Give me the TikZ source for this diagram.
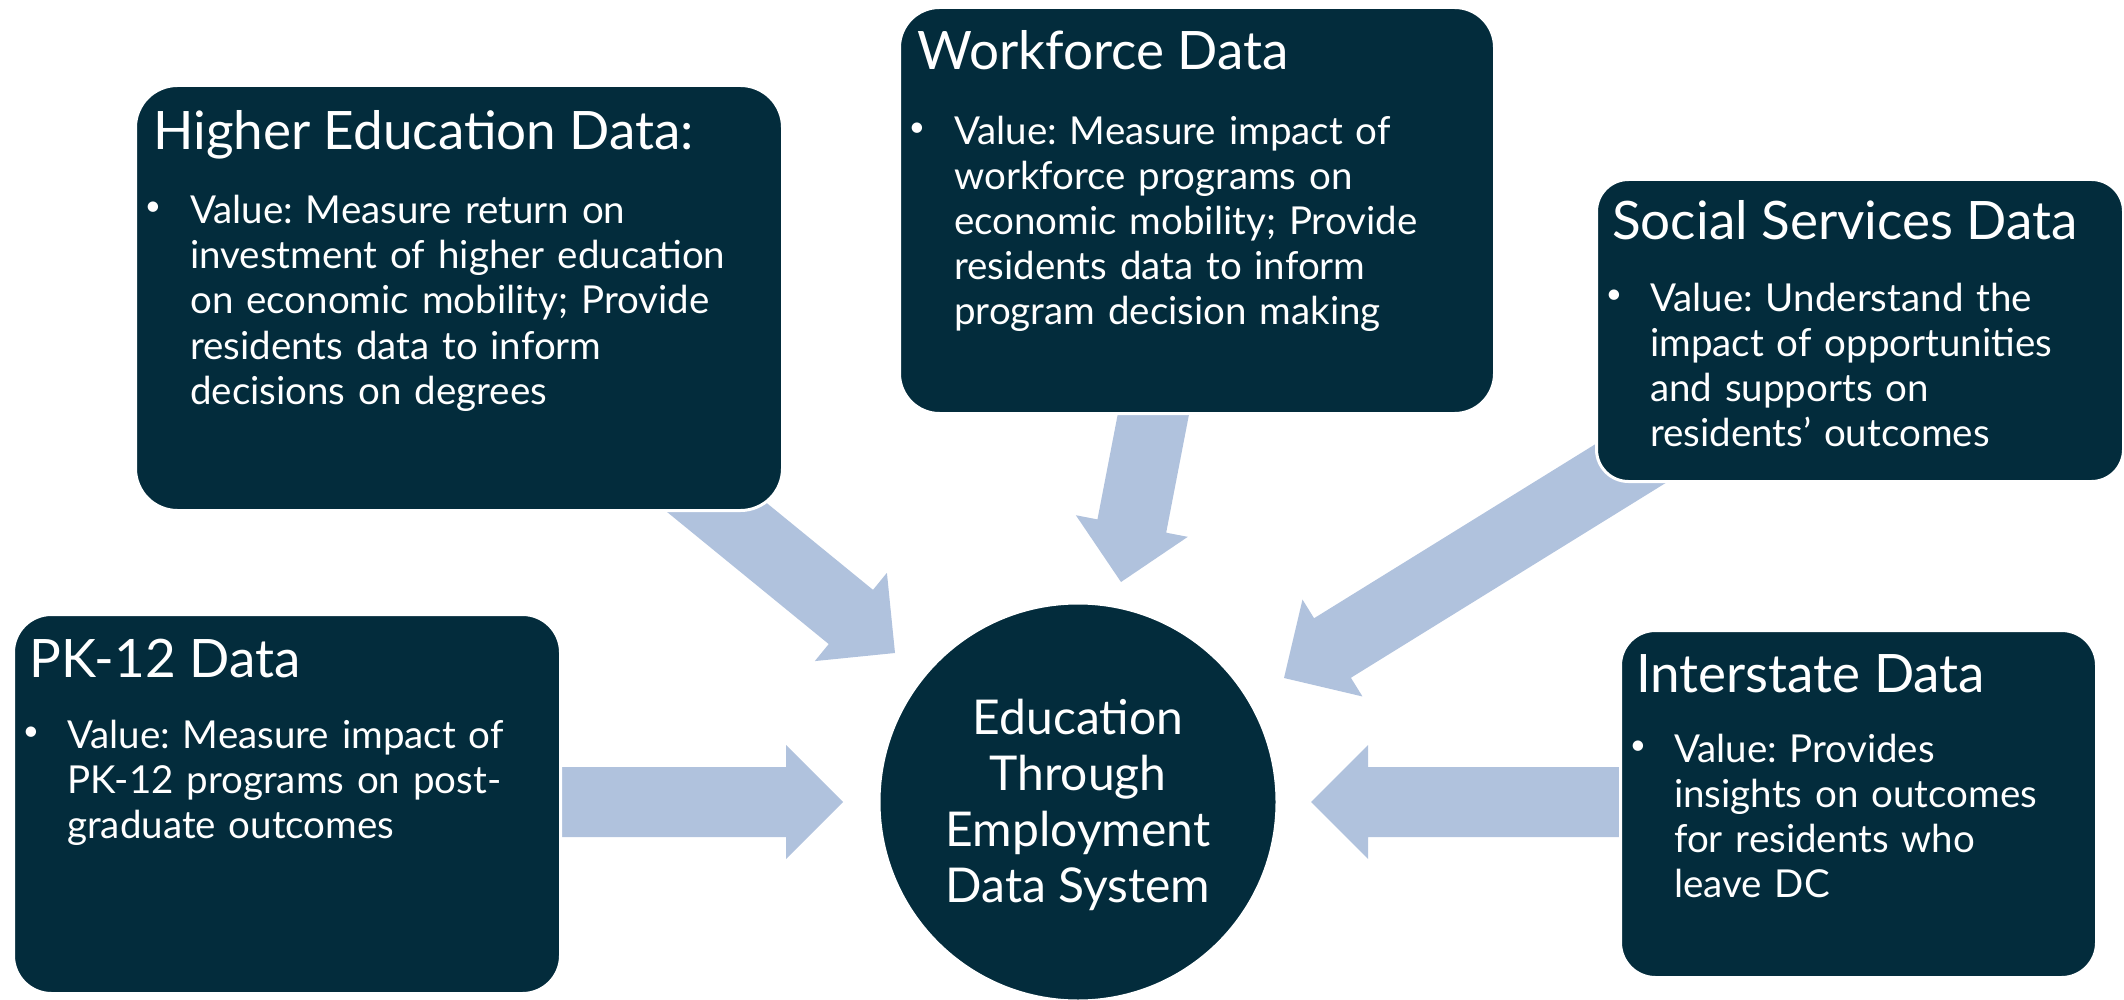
\documentclass[tikz,border=0pt]{standalone}
\usepackage{fontspec}
\setmainfont{Lato}
\usetikzlibrary{calc}
\frenchspacing
\definecolor{boxnavy}{HTML}{032C3C}
\definecolor{arrowblue}{HTML}{B0C2DD}
\pgfdeclarelayer{background}
\pgfsetlayers{background,main}
\newcommand\blockarrow[2]{% #1 tail, #2 tip
  \path ($(#2)!57pt!(#1)$) coordinate (ab);
  \fill[arrowblue] ($(#1)!35pt!90:(#2)$) -- ($(ab)!35pt!90:(#2)$) -- ($(ab)!57pt!90:(#2)$)
    -- (#2) -- ($(ab)!57pt!-90:(#2)$) -- ($(ab)!35pt!-90:(#2)$) -- ($(#1)!35pt!-90:(#2)$) -- cycle;
}
\tikzset{
  databox/.style={fill=boxnavy, draw=white, line width=3pt, anchor=north west, inner sep=0pt},
  boxtitle/.style={text=white, anchor=base west, inner sep=0pt, font=\fontsize{53}{60}\selectfont},
  bulletdot/.style={text=white, anchor=base, inner sep=0pt, font=\fontsize{28}{30}\selectfont},
  boxbody/.style={text=white, anchor=base west, inner sep=0pt, text width=560pt, align=left,
    font=\fontsize{38.5}{45}\selectfont\setlength\parindent{0pt}},
  hubtext/.style={text=white, align=center, inner sep=0pt, font=\fontsize{48}{56}\selectfont},
}
\begin{document}
\begin{tikzpicture}[x=1pt,y=-1pt]
\useasboundingbox (0,0) rectangle (2124,1000);

% boxes
\node[databox, minimum width=647pt, minimum height=425pt, rounded corners=42pt] (he) at (134,84) {};
\node[databox, minimum width=595pt, minimum height=406pt, rounded corners=40pt] (wf) at (898,6) {};
\node[databox, minimum width=527pt, minimum height=302pt, rounded corners=32pt] (ss) at (1595,178) {};
\node[databox, minimum width=547pt, minimum height=379pt, rounded corners=38pt] (pk) at (12,613) {};
\node[databox, minimum width=476pt, minimum height=347pt, rounded corners=35pt] (is) at (1619,629) {};
\node[circle, fill=boxnavy, draw=white, line width=3pt, minimum size=398pt, inner sep=0pt] (hub) at (1078,802) {};
\node[hubtext] (hubt) at (1078,805) {Education\\Through\\Employment\\Data System};

% texts
\node[boxtitle] (het) at (153,150) {Higher Education Data:};
\node[bulletdot] (heb) at (153,216) {\textbullet};
\node[boxbody] (hex) at (190,224) {Value: Measure return on\\investment of higher education\\on economic mobility; Provide\\residents data to inform\\decisions on degrees};

\node[boxtitle] (wft) at (917,70) {Workforce Data};
\node[bulletdot] (wfb) at (917,137) {\textbullet};
\node[boxbody] (wfx) at (954,145) {Value: Measure impact of\\workforce programs on\\economic mobility; Provide\\residents data to inform\\program decision making};

\node[boxtitle] (sst) at (1612,240) {Social Services Data};
\node[bulletdot] (ssb) at (1614,303) {\textbullet};
\node[boxbody] (ssx) at (1650,311) {Value: Understand the\\impact of opportunities\\and supports on\\residents' outcomes};

\node[boxtitle] (pkt) at (29,677) {PK-12 Data};
\node[bulletdot] (pkb) at (31,740) {\textbullet};
\node[boxbody] (pkx) at (67,748) {Value: Measure impact of\\PK-12 programs on post-\\graduate outcomes};

\node[boxtitle] (ist) at (1636,692) {Interstate Data};
\node[bulletdot] (isb) at (1638,754) {\textbullet};
\node[boxbody] (isx) at (1674,762) {Value: Provides\\insights on outcomes\\for residents who\\leave DC};

% arrow anchor coordinates
\coordinate (heT) at (662.5,463.1);
\coordinate (heP) at (895,653);
\coordinate (wfT) at (1160,380);
\coordinate (wfP) at (1121,582);
\coordinate (ssT) at (1666.5,441.3);
\coordinate (ssP) at (1284,678);
\coordinate (pkT) at (540,802);
\coordinate (pkP) at (843,802);
\coordinate (isT) at (1640,802);
\coordinate (isP) at (1311,802);

\begin{pgfonlayer}{background}
\blockarrow{heT}{heP}
\blockarrow{wfT}{wfP}
\blockarrow{ssT}{ssP}
\blockarrow{pkT}{pkP}
\blockarrow{isT}{isP}
\end{pgfonlayer}
\end{tikzpicture}
\end{document}
